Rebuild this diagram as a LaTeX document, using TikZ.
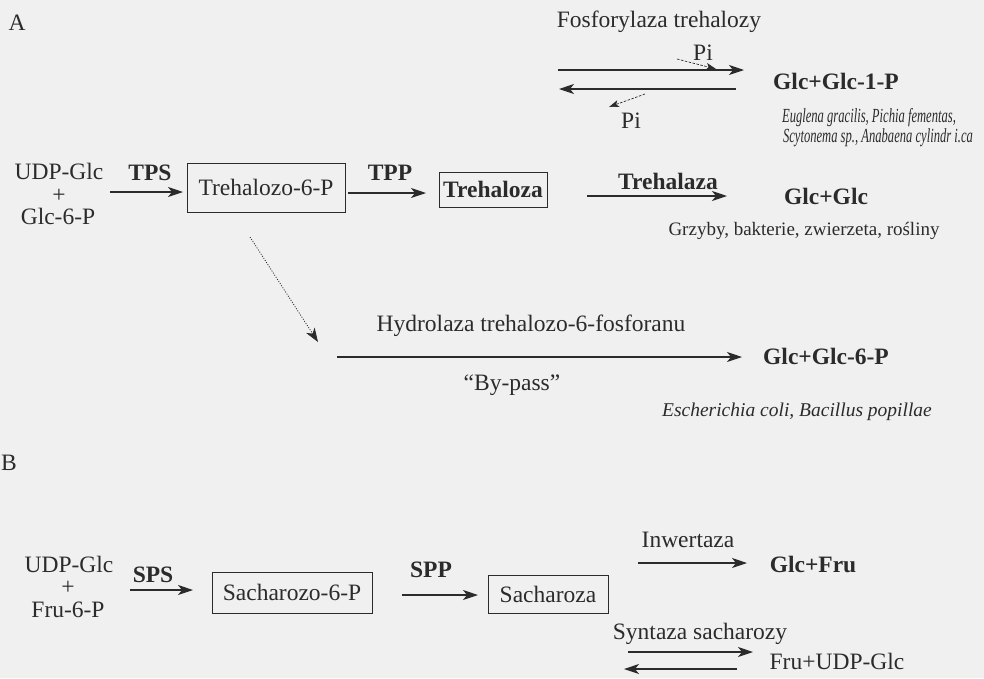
\documentclass[tikz,border=0pt]{standalone}
\usepackage{fontspec}
\setmainfont{Liberation Serif}
\newfontfamily\condfont[FakeStretch=0.63]{Liberation Serif}
\usetikzlibrary{arrows.meta}
\definecolor{bg}{HTML}{F0F0F0}
\definecolor{ink}{HTML}{2B2B2B}
\begin{document}
\begin{tikzpicture}[x=1pt,y=-1pt,
  t/.style={text=ink,inner sep=0pt,anchor=mid,yshift=-5.5pt,font=\fontsize{23.5}{26}\selectfont},
  tb/.style={t,font=\fontsize{23.5}{26}\selectfont\bfseries},
  tsm/.style={t,font=\fontsize{19}{22}\selectfont},
  tit/.style={t,font=\fontsize{19.5}{22}\selectfont\itshape},
  tcond/.style={t,font=\fontsize{20}{22}\selectfont\condfont\itshape},
  bx/.style={draw=ink,line width=0.9pt,inner sep=0pt,text=ink,font=\fontsize{23.5}{26}\selectfont},
  rxn/.style={draw=ink,line width=1.1pt,-{Stealth[length=15pt,width=10pt,inset=4pt]}},
  rxnb/.style={draw=ink,line width=2pt,-{Stealth[length=15pt,width=10pt,inset=4pt]}},
  piarr/.style={draw=ink,line width=0.7pt,dash pattern=on 2.5pt off 1.5pt,-{Stealth[length=10pt,width=7pt,inset=2.5pt]}},
  dotarr/.style={draw=ink,line width=0.8pt,dash pattern=on 1pt off 1.5pt,-{Stealth[length=14pt,width=10pt,inset=4pt]}}
]
\fill[bg] (0,0) rectangle (984,678);
\useasboundingbox (0,0) rectangle (984,678);

% ---------- A ----------
\node[t] (lblA) at (17,23) {A};
\node[t] (udpA) at (59,172) {UDP-Glc};
\node[t] (plusA) at (59,195) {+};
\node[t] (g6p) at (58,217) {Glc-6-P};
\node[tb] (tps) at (150,173) {TPS};
\coordinate (tpsS) at (110,192);
\coordinate (tpsE) at (183,192);
\draw[rxn] (tpsS) -- (tpsE);
\node[bx,minimum width=158pt,minimum height=49pt] (t6p) at (266,187.5) {Trehalozo-6-P};
\node[tb] (tpp) at (390,173) {TPP};
\coordinate (tppS) at (348,193);
\coordinate (tppE) at (426,193);
\draw[rxn] (tppS) -- (tppE);
\node[bx,minimum width=108pt,minimum height=35pt,font=\fontsize{23.5}{26}\selectfont\bfseries] (treh) at (493,189.5) {Trehaloza};

% phosphorylase
\node[t] (fosf) at (659,20) {Fosforylaza trehalozy};
\coordinate (fS) at (558,70);
\coordinate (fE) at (744,70);
\draw[rxn] (fS) -- (fE);
\coordinate (rS) at (736,89);
\coordinate (rE) at (559,89);
\draw[rxn] (rS) -- (rE);
\node[t] (pi1) at (703,53) {Pi};
\coordinate (pi1S) at (677,59);
\coordinate (pi1E) at (716,69);
\draw[piarr] (pi1S) -- (pi1E);
\node[t] (pi2) at (631,121) {Pi};
\coordinate (pi2S) at (645,94);
\coordinate (pi2E) at (609,107);
\draw[piarr] (pi2S) -- (pi2E);
\node[tb] (g1p) at (836,82) {Glc+Glc-1-P};
\node[tcond] (eug) at (869,115) {Euglena gracilis, Pichia fementas,};
\node[tcond] (scy) at (878,135) {Scytonema sp., Anabaena cylindr i.ca};

% trehalase
\node[tb] (trz) at (668,182) {Trehalaza};
\coordinate (trS) at (587,196);
\coordinate (trE) at (727,196);
\draw[rxnb] (trS) -- (trE);
\node[tb] (gg) at (826,197) {Glc+Glc};
\node[tsm] (grz) at (804,228) {Grzyby, bakterie, zwierzeta, rośliny};

% by-pass
\coordinate (dS) at (250,237);
\coordinate (dE) at (318,342);
\draw[dotarr] (dS) -- (dE);
\node[t] (hyd) at (531,324) {Hydrolaza trehalozo-6-fosforanu};
\coordinate (bpS) at (337,357);
\coordinate (bpE) at (742,357);
\draw[rxn] (bpS) -- (bpE);
\node[t] (bp) at (512,383) {“By-pass”};
\node[tb] (g6p2) at (826,357) {Glc+Glc-6-P};
\node[tit] (esch) at (797,409) {Escherichia coli, Bacillus popillae};

% ---------- B ----------
\node[t] (lblB) at (9,463) {B};
\node[t] (udpB) at (69,565) {UDP-Glc};
\node[t] (plusB) at (68,587) {+};
\node[t] (f6p) at (68,610) {Fru-6-P};
\node[tb] (sps) at (153,575) {SPS};
\coordinate (spsS) at (130,590);
\coordinate (spsE) at (193,590);
\draw[rxn] (spsS) -- (spsE);
\node[bx,minimum width=160pt,minimum height=41pt] (s6p) at (292,592.5) {Sacharozo-6-P};
\node[tb] (spp) at (431,570) {SPP};
\coordinate (sppS) at (402,595);
\coordinate (sppE) at (478,595);
\draw[rxn] (sppS) -- (sppE);
\node[bx,minimum width=120pt,minimum height=38pt] (sach) at (548,594) {Sacharoza};

\node[t] (inw) at (688,540) {Inwertaza};
\coordinate (inS) at (638,563);
\coordinate (inE) at (747,563);
\draw[rxn] (inS) -- (inE);
\node[tb] (gf) at (813,565) {Glc+Fru};

\node[t] (syn) at (700,632) {Syntaza sacharozy};
\coordinate (syS) at (628,652);
\coordinate (syE) at (753,652);
\draw[rxn] (syS) -- (syE);
\coordinate (sy2S) at (737,669);
\coordinate (sy2E) at (624,669);
\draw[rxn] (sy2S) -- (sy2E);
\node[t] (fu) at (837,662) {Fru+UDP-Glc};
\end{tikzpicture}
\end{document}
